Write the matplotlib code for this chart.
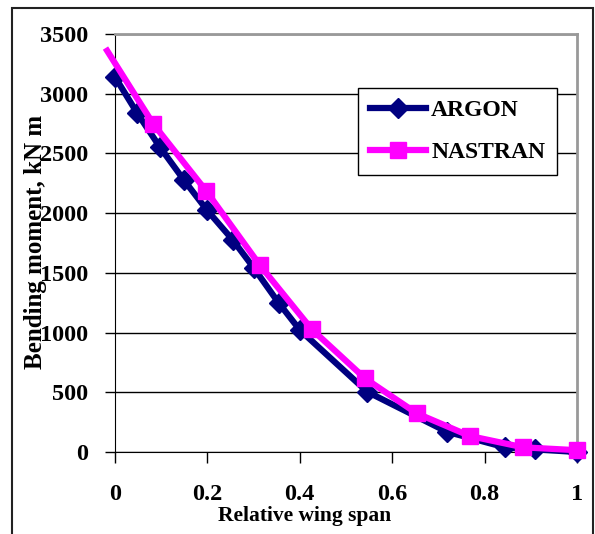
import matplotlib
matplotlib.use("Agg")
import matplotlib.pyplot as plt
from matplotlib.patches import Rectangle

# Data
argon_x = [0.0, 0.048, 0.097, 0.149, 0.199, 0.255, 0.301, 0.354, 0.40, 0.546, 0.718, 0.844, 0.909, 1.0]
argon_y = [3140, 2838, 2554, 2278, 2026, 1775, 1538, 1250, 1022, 504, 170, 39, 22, 0]
nastran_x = [-0.017, 0.083, 0.197, 0.314, 0.426, 0.541, 0.653, 0.768, 0.884, 1.0]
nastran_y = [3360, 2746, 2188, 1562, 1027, 617, 324, 134, 39, 15]
xticks = [0, 0.2, 0.4, 0.6, 0.8, 1]
xtick_labels = ["0", "0.2", "0.4", "0.6", "0.8", "1"]
yticks = [0, 500, 1000, 1500, 2000, 2500, 3000, 3500]

plt.rcParams['font.family'] = ['Liberation Serif', 'DejaVu Serif']
plt.rcParams['font.weight'] = 'bold'

W, H = 595, 534
fig = plt.figure(figsize=(W/100, H/100), dpi=100)
ax = fig.add_axes([115/W, 1-452/H, (577-115)/W, (452-34)/H])

ax.plot(argon_x, argon_y, color='#000080', lw=4.5, marker='D', ms=10,
        mec='#000080', mfc='#000080', label='ARGON', zorder=3, clip_on=False)
ax.plot(nastran_x, nastran_y, color='#FF00FF', lw=4.5, marker='s', ms=11,
        mec='#FF00FF', mfc='#FF00FF', label='NASTRAN', zorder=4, clip_on=False,
        markevery=list(range(1, len(nastran_x))))

ax.set_xlim(0, 1)
ax.set_ylim(0, 3500)
ax.set_xticks(xticks)
ax.set_xticklabels(xtick_labels)
ax.set_yticks(yticks)
ax.yaxis.grid(True, color='black', lw=1.0)
ax.set_axisbelow(True)

for lbl in ax.get_xticklabels() + ax.get_yticklabels():
    lbl.set_fontsize(17.5)
    lbl.set_fontweight('bold')
ax.tick_params(axis='y', direction='out', length=7, width=1, pad=12)
ax.tick_params(axis='x', direction='out', length=8, width=1, pad=15)

ax.spines['left'].set_color('black')
ax.spines['bottom'].set_color('black')
ax.spines['top'].set_color('#999999')
ax.spines['right'].set_color('#999999')
ax.spines['top'].set_linewidth(2)
ax.spines['right'].set_linewidth(2)

fig.text(305/W, 1-516/H, 'Relative wing span', ha='center', va='center',
         fontsize=15.5, fontweight='bold')
fig.text(36/W, 1-242/H, 'Bending moment, kN m', ha='center', va='center',
         rotation=90, fontsize=18, fontweight='bold')

leg = ax.legend(loc='upper left', bbox_to_anchor=((358-115)/(577-115), (452-88)/(452-34)),
                frameon=True, fancybox=False, framealpha=1, edgecolor='black',
                prop={'size': 17, 'weight': 'bold'}, handlelength=2.4,
                borderpad=0.5, labelspacing=0.85, handletextpad=0.2, borderaxespad=0)
leg.get_frame().set_linewidth(1)
leg.set_zorder(10)

fig.patches.append(Rectangle((12/W, -0.05), (593-12)/W, 1-8/H+0.05,
                             transform=fig.transFigure, fill=False,
                             edgecolor='#222222', lw=1.5))

fig.savefig('out.png', dpi=100)
